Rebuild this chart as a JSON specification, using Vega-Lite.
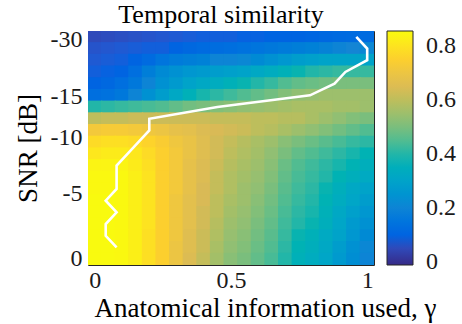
{
  "$schema": "https://vega.github.io/schema/vega-lite/v6.json",
  "width": 286,
  "height": 234,
  "autosize": "none",
  "padding": {"left": 88, "top": 31, "right": 88, "bottom": 59},
  "config": {
    "font": "Liberation Serif",
    "view": {"stroke": "#262626", "strokeWidth": 1},
    "axis": {"grid": false, "domain": false, "labelFont": "Liberation Serif", "titleFont": "Liberation Serif", "labelFontSize": 24, "titleFontSize": 27, "titleFontWeight": "normal", "labelColor": "#1a1a1a", "titleColor": "#000000", "tickColor": "#262626", "tickSize": -4, "labelFlush": false, "labelOverlap": false},
    "legend": {"labelFont": "Liberation Serif", "labelFontSize": 24},
    "style": {"guide-label": {"font": "Liberation Serif", "fontSize": 24}, "guide-title": {"font": "Liberation Serif"}},
    "title": {"font": "Liberation Serif"}
  },
  "title": {"text": "Temporal similarity", "font": "Liberation Serif", "fontSize": 26, "fontWeight": "normal", "color": "#000000", "anchor": "middle", "offset": -1, "dx": -10},
  "datasets": {
    "grid": [
      {"g":0,"snr":-30.65,"v":0.05},{"g":0.05,"snr":-30.65,"v":0.055},{"g":0.1,"snr":-30.65,"v":0.06},{"g":0.15,"snr":-30.65,"v":0.065},{"g":0.2,"snr":-30.65,"v":0.07},{"g":0.25,"snr":-30.65,"v":0.075},{"g":0.3,"snr":-30.65,"v":0.08},{"g":0.35,"snr":-30.65,"v":0.085},{"g":0.4,"snr":-30.65,"v":0.09},{"g":0.45,"snr":-30.65,"v":0.09},{"g":0.5,"snr":-30.65,"v":0.09},{"g":0.55,"snr":-30.65,"v":0.095},{"g":0.6,"snr":-30.65,"v":0.095},{"g":0.65,"snr":-30.65,"v":0.1},{"g":0.7,"snr":-30.65,"v":0.1},{"g":0.75,"snr":-30.65,"v":0.1},{"g":0.8,"snr":-30.65,"v":0.105},{"g":0.85,"snr":-30.65,"v":0.11},{"g":0.9,"snr":-30.65,"v":0.115},{"g":0.95,"snr":-30.65,"v":0.12},{"g":1,"snr":-30.65,"v":0.12},
      {"g":0,"snr":-27.55,"v":0.07},{"g":0.05,"snr":-27.55,"v":0.075},{"g":0.1,"snr":-27.55,"v":0.08},{"g":0.15,"snr":-27.55,"v":0.085},{"g":0.2,"snr":-27.55,"v":0.09},{"g":0.25,"snr":-27.55,"v":0.09},{"g":0.3,"snr":-27.55,"v":0.1},{"g":0.35,"snr":-27.55,"v":0.11},{"g":0.4,"snr":-27.55,"v":0.12},{"g":0.45,"snr":-27.55,"v":0.125},{"g":0.5,"snr":-27.55,"v":0.13},{"g":0.55,"snr":-27.55,"v":0.14},{"g":0.6,"snr":-27.55,"v":0.15},{"g":0.65,"snr":-27.55,"v":0.16},{"g":0.7,"snr":-27.55,"v":0.17},{"g":0.75,"snr":-27.55,"v":0.18},{"g":0.8,"snr":-27.55,"v":0.19},{"g":0.85,"snr":-27.55,"v":0.195},{"g":0.9,"snr":-27.55,"v":0.2},{"g":0.95,"snr":-27.55,"v":0.205},{"g":1,"snr":-27.55,"v":0.21},
      {"g":0,"snr":-24.46,"v":0.08},{"g":0.05,"snr":-24.46,"v":0.085},{"g":0.1,"snr":-24.46,"v":0.09},{"g":0.15,"snr":-24.46,"v":0.1},{"g":0.2,"snr":-24.46,"v":0.12},{"g":0.25,"snr":-24.46,"v":0.15},{"g":0.3,"snr":-24.46,"v":0.17},{"g":0.35,"snr":-24.46,"v":0.18},{"g":0.4,"snr":-24.46,"v":0.19},{"g":0.45,"snr":-24.46,"v":0.2},{"g":0.5,"snr":-24.46,"v":0.2},{"g":0.55,"snr":-24.46,"v":0.21},{"g":0.6,"snr":-24.46,"v":0.22},{"g":0.65,"snr":-24.46,"v":0.24},{"g":0.7,"snr":-24.46,"v":0.26},{"g":0.75,"snr":-24.46,"v":0.28},{"g":0.8,"snr":-24.46,"v":0.29},{"g":0.85,"snr":-24.46,"v":0.3},{"g":0.9,"snr":-24.46,"v":0.3},{"g":0.95,"snr":-24.46,"v":0.3},{"g":1,"snr":-24.46,"v":0.3},
      {"g":0,"snr":-21.36,"v":0.09},{"g":0.05,"snr":-21.36,"v":0.095},{"g":0.1,"snr":-21.36,"v":0.1},{"g":0.15,"snr":-21.36,"v":0.13},{"g":0.2,"snr":-21.36,"v":0.18},{"g":0.25,"snr":-21.36,"v":0.22},{"g":0.3,"snr":-21.36,"v":0.24},{"g":0.35,"snr":-21.36,"v":0.26},{"g":0.4,"snr":-21.36,"v":0.27},{"g":0.45,"snr":-21.36,"v":0.28},{"g":0.5,"snr":-21.36,"v":0.29},{"g":0.55,"snr":-21.36,"v":0.3},{"g":0.6,"snr":-21.36,"v":0.32},{"g":0.65,"snr":-21.36,"v":0.34},{"g":0.7,"snr":-21.36,"v":0.36},{"g":0.75,"snr":-21.36,"v":0.38},{"g":0.8,"snr":-21.36,"v":0.4},{"g":0.85,"snr":-21.36,"v":0.41},{"g":0.9,"snr":-21.36,"v":0.42},{"g":0.95,"snr":-21.36,"v":0.42},{"g":1,"snr":-21.36,"v":0.42},
      {"g":0,"snr":-18.27,"v":0.1},{"g":0.05,"snr":-18.27,"v":0.11},{"g":0.1,"snr":-18.27,"v":0.13},{"g":0.15,"snr":-18.27,"v":0.16},{"g":0.2,"snr":-18.27,"v":0.2},{"g":0.25,"snr":-18.27,"v":0.24},{"g":0.3,"snr":-18.27,"v":0.27},{"g":0.35,"snr":-18.27,"v":0.3},{"g":0.4,"snr":-18.27,"v":0.32},{"g":0.45,"snr":-18.27,"v":0.34},{"g":0.5,"snr":-18.27,"v":0.36},{"g":0.55,"snr":-18.27,"v":0.38},{"g":0.6,"snr":-18.27,"v":0.4},{"g":0.65,"snr":-18.27,"v":0.42},{"g":0.7,"snr":-18.27,"v":0.45},{"g":0.75,"snr":-18.27,"v":0.47},{"g":0.8,"snr":-18.27,"v":0.48},{"g":0.85,"snr":-18.27,"v":0.49},{"g":0.9,"snr":-18.27,"v":0.5},{"g":0.95,"snr":-18.27,"v":0.5},{"g":1,"snr":-18.27,"v":0.5},
      {"g":0,"snr":-15.17,"v":0.13},{"g":0.05,"snr":-15.17,"v":0.14},{"g":0.1,"snr":-15.17,"v":0.16},{"g":0.15,"snr":-15.17,"v":0.2},{"g":0.2,"snr":-15.17,"v":0.24},{"g":0.25,"snr":-15.17,"v":0.28},{"g":0.3,"snr":-15.17,"v":0.32},{"g":0.35,"snr":-15.17,"v":0.36},{"g":0.4,"snr":-15.17,"v":0.39},{"g":0.45,"snr":-15.17,"v":0.41},{"g":0.5,"snr":-15.17,"v":0.43},{"g":0.55,"snr":-15.17,"v":0.45},{"g":0.6,"snr":-15.17,"v":0.47},{"g":0.65,"snr":-15.17,"v":0.49},{"g":0.7,"snr":-15.17,"v":0.51},{"g":0.75,"snr":-15.17,"v":0.53},{"g":0.8,"snr":-15.17,"v":0.54},{"g":0.85,"snr":-15.17,"v":0.55},{"g":0.9,"snr":-15.17,"v":0.55},{"g":0.95,"snr":-15.17,"v":0.55},{"g":1,"snr":-15.17,"v":0.55},
      {"g":0,"snr":-13.68,"v":0.4},{"g":0.05,"snr":-13.68,"v":0.41},{"g":0.1,"snr":-13.68,"v":0.42},{"g":0.15,"snr":-13.68,"v":0.43},{"g":0.2,"snr":-13.68,"v":0.44},{"g":0.25,"snr":-13.68,"v":0.45},{"g":0.3,"snr":-13.68,"v":0.47},{"g":0.35,"snr":-13.68,"v":0.49},{"g":0.4,"snr":-13.68,"v":0.5},{"g":0.45,"snr":-13.68,"v":0.51},{"g":0.5,"snr":-13.68,"v":0.52},{"g":0.55,"snr":-13.68,"v":0.53},{"g":0.6,"snr":-13.68,"v":0.54},{"g":0.65,"snr":-13.68,"v":0.55},{"g":0.7,"snr":-13.68,"v":0.56},{"g":0.75,"snr":-13.68,"v":0.57},{"g":0.8,"snr":-13.68,"v":0.57},{"g":0.85,"snr":-13.68,"v":0.57},{"g":0.9,"snr":-13.68,"v":0.56},{"g":0.95,"snr":-13.68,"v":0.56},{"g":1,"snr":-13.68,"v":0.55},
      {"g":0,"snr":-12.27,"v":0.6},{"g":0.05,"snr":-12.27,"v":0.61},{"g":0.1,"snr":-12.27,"v":0.61},{"g":0.15,"snr":-12.27,"v":0.62},{"g":0.2,"snr":-12.27,"v":0.62},{"g":0.25,"snr":-12.27,"v":0.62},{"g":0.3,"snr":-12.27,"v":0.62},{"g":0.35,"snr":-12.27,"v":0.62},{"g":0.4,"snr":-12.27,"v":0.62},{"g":0.45,"snr":-12.27,"v":0.61},{"g":0.5,"snr":-12.27,"v":0.61},{"g":0.55,"snr":-12.27,"v":0.61},{"g":0.6,"snr":-12.27,"v":0.6},{"g":0.65,"snr":-12.27,"v":0.6},{"g":0.7,"snr":-12.27,"v":0.59},{"g":0.75,"snr":-12.27,"v":0.59},{"g":0.8,"snr":-12.27,"v":0.57},{"g":0.85,"snr":-12.27,"v":0.55},{"g":0.9,"snr":-12.27,"v":0.53},{"g":0.95,"snr":-12.27,"v":0.51},{"g":1,"snr":-12.27,"v":0.5},
      {"g":0,"snr":-10.87,"v":0.72},{"g":0.05,"snr":-10.87,"v":0.73},{"g":0.1,"snr":-10.87,"v":0.73},{"g":0.15,"snr":-10.87,"v":0.72},{"g":0.2,"snr":-10.87,"v":0.71},{"g":0.25,"snr":-10.87,"v":0.7},{"g":0.3,"snr":-10.87,"v":0.68},{"g":0.35,"snr":-10.87,"v":0.67},{"g":0.4,"snr":-10.87,"v":0.65},{"g":0.45,"snr":-10.87,"v":0.64},{"g":0.5,"snr":-10.87,"v":0.63},{"g":0.55,"snr":-10.87,"v":0.62},{"g":0.6,"snr":-10.87,"v":0.6},{"g":0.65,"snr":-10.87,"v":0.59},{"g":0.7,"snr":-10.87,"v":0.57},{"g":0.75,"snr":-10.87,"v":0.55},{"g":0.8,"snr":-10.87,"v":0.53},{"g":0.85,"snr":-10.87,"v":0.51},{"g":0.9,"snr":-10.87,"v":0.49},{"g":0.95,"snr":-10.87,"v":0.47},{"g":1,"snr":-10.87,"v":0.45},
      {"g":0,"snr":-9.6,"v":0.78},{"g":0.05,"snr":-9.6,"v":0.79},{"g":0.1,"snr":-9.6,"v":0.79},{"g":0.15,"snr":-9.6,"v":0.78},{"g":0.2,"snr":-9.6,"v":0.76},{"g":0.25,"snr":-9.6,"v":0.74},{"g":0.3,"snr":-9.6,"v":0.71},{"g":0.35,"snr":-9.6,"v":0.69},{"g":0.4,"snr":-9.6,"v":0.66},{"g":0.45,"snr":-9.6,"v":0.63},{"g":0.5,"snr":-9.6,"v":0.61},{"g":0.55,"snr":-9.6,"v":0.59},{"g":0.6,"snr":-9.6,"v":0.57},{"g":0.65,"snr":-9.6,"v":0.55},{"g":0.7,"snr":-9.6,"v":0.52},{"g":0.75,"snr":-9.6,"v":0.5},{"g":0.8,"snr":-9.6,"v":0.48},{"g":0.85,"snr":-9.6,"v":0.46},{"g":0.9,"snr":-9.6,"v":0.44},{"g":0.95,"snr":-9.6,"v":0.42},{"g":1,"snr":-9.6,"v":0.41},
      {"g":0,"snr":-8.54,"v":0.81},{"g":0.05,"snr":-8.54,"v":0.82},{"g":0.1,"snr":-8.54,"v":0.82},{"g":0.15,"snr":-8.54,"v":0.81},{"g":0.2,"snr":-8.54,"v":0.78},{"g":0.25,"snr":-8.54,"v":0.75},{"g":0.3,"snr":-8.54,"v":0.72},{"g":0.35,"snr":-8.54,"v":0.69},{"g":0.4,"snr":-8.54,"v":0.66},{"g":0.45,"snr":-8.54,"v":0.63},{"g":0.5,"snr":-8.54,"v":0.6},{"g":0.55,"snr":-8.54,"v":0.58},{"g":0.6,"snr":-8.54,"v":0.56},{"g":0.65,"snr":-8.54,"v":0.53},{"g":0.7,"snr":-8.54,"v":0.5},{"g":0.75,"snr":-8.54,"v":0.47},{"g":0.8,"snr":-8.54,"v":0.45},{"g":0.85,"snr":-8.54,"v":0.43},{"g":0.9,"snr":-8.54,"v":0.41},{"g":0.95,"snr":-8.54,"v":0.39},{"g":1,"snr":-8.54,"v":0.37},
      {"g":0,"snr":-7.48,"v":0.84},{"g":0.05,"snr":-7.48,"v":0.84},{"g":0.1,"snr":-7.48,"v":0.84},{"g":0.15,"snr":-7.48,"v":0.82},{"g":0.2,"snr":-7.48,"v":0.79},{"g":0.25,"snr":-7.48,"v":0.75},{"g":0.3,"snr":-7.48,"v":0.72},{"g":0.35,"snr":-7.48,"v":0.68},{"g":0.4,"snr":-7.48,"v":0.65},{"g":0.45,"snr":-7.48,"v":0.62},{"g":0.5,"snr":-7.48,"v":0.59},{"g":0.55,"snr":-7.48,"v":0.57},{"g":0.6,"snr":-7.48,"v":0.55},{"g":0.65,"snr":-7.48,"v":0.52},{"g":0.7,"snr":-7.48,"v":0.48},{"g":0.75,"snr":-7.48,"v":0.45},{"g":0.8,"snr":-7.48,"v":0.43},{"g":0.85,"snr":-7.48,"v":0.41},{"g":0.9,"snr":-7.48,"v":0.39},{"g":0.95,"snr":-7.48,"v":0.37},{"g":1,"snr":-7.48,"v":0.35},
      {"g":0,"snr":-6.42,"v":0.85},{"g":0.05,"snr":-6.42,"v":0.85},{"g":0.1,"snr":-6.42,"v":0.85},{"g":0.15,"snr":-6.42,"v":0.83},{"g":0.2,"snr":-6.42,"v":0.8},{"g":0.25,"snr":-6.42,"v":0.75},{"g":0.3,"snr":-6.42,"v":0.72},{"g":0.35,"snr":-6.42,"v":0.68},{"g":0.4,"snr":-6.42,"v":0.65},{"g":0.45,"snr":-6.42,"v":0.61},{"g":0.5,"snr":-6.42,"v":0.58},{"g":0.55,"snr":-6.42,"v":0.56},{"g":0.6,"snr":-6.42,"v":0.54},{"g":0.65,"snr":-6.42,"v":0.51},{"g":0.7,"snr":-6.42,"v":0.47},{"g":0.75,"snr":-6.42,"v":0.44},{"g":0.8,"snr":-6.42,"v":0.42},{"g":0.85,"snr":-6.42,"v":0.4},{"g":0.9,"snr":-6.42,"v":0.37},{"g":0.95,"snr":-6.42,"v":0.35},{"g":1,"snr":-6.42,"v":0.33},
      {"g":0,"snr":-5.37,"v":0.85},{"g":0.05,"snr":-5.37,"v":0.85},{"g":0.1,"snr":-5.37,"v":0.85},{"g":0.15,"snr":-5.37,"v":0.83},{"g":0.2,"snr":-5.37,"v":0.8},{"g":0.25,"snr":-5.37,"v":0.75},{"g":0.3,"snr":-5.37,"v":0.72},{"g":0.35,"snr":-5.37,"v":0.68},{"g":0.4,"snr":-5.37,"v":0.64},{"g":0.45,"snr":-5.37,"v":0.61},{"g":0.5,"snr":-5.37,"v":0.58},{"g":0.55,"snr":-5.37,"v":0.55},{"g":0.6,"snr":-5.37,"v":0.53},{"g":0.65,"snr":-5.37,"v":0.5},{"g":0.7,"snr":-5.37,"v":0.46},{"g":0.75,"snr":-5.37,"v":0.43},{"g":0.8,"snr":-5.37,"v":0.41},{"g":0.85,"snr":-5.37,"v":0.38},{"g":0.9,"snr":-5.37,"v":0.35},{"g":0.95,"snr":-5.37,"v":0.32},{"g":1,"snr":-5.37,"v":0.3},
      {"g":0,"snr":-4.41,"v":0.855},{"g":0.05,"snr":-4.41,"v":0.855},{"g":0.1,"snr":-4.41,"v":0.85},{"g":0.15,"snr":-4.41,"v":0.83},{"g":0.2,"snr":-4.41,"v":0.8},{"g":0.25,"snr":-4.41,"v":0.75},{"g":0.3,"snr":-4.41,"v":0.71},{"g":0.35,"snr":-4.41,"v":0.67},{"g":0.4,"snr":-4.41,"v":0.64},{"g":0.45,"snr":-4.41,"v":0.6},{"g":0.5,"snr":-4.41,"v":0.57},{"g":0.55,"snr":-4.41,"v":0.55},{"g":0.6,"snr":-4.41,"v":0.52},{"g":0.65,"snr":-4.41,"v":0.49},{"g":0.7,"snr":-4.41,"v":0.45},{"g":0.75,"snr":-4.41,"v":0.42},{"g":0.8,"snr":-4.41,"v":0.4},{"g":0.85,"snr":-4.41,"v":0.37},{"g":0.9,"snr":-4.41,"v":0.34},{"g":0.95,"snr":-4.41,"v":0.31},{"g":1,"snr":-4.41,"v":0.28},
      {"g":0,"snr":-3.51,"v":0.855},{"g":0.05,"snr":-3.51,"v":0.855},{"g":0.1,"snr":-3.51,"v":0.85},{"g":0.15,"snr":-3.51,"v":0.83},{"g":0.2,"snr":-3.51,"v":0.8},{"g":0.25,"snr":-3.51,"v":0.75},{"g":0.3,"snr":-3.51,"v":0.71},{"g":0.35,"snr":-3.51,"v":0.67},{"g":0.4,"snr":-3.51,"v":0.63},{"g":0.45,"snr":-3.51,"v":0.6},{"g":0.5,"snr":-3.51,"v":0.56},{"g":0.55,"snr":-3.51,"v":0.54},{"g":0.6,"snr":-3.51,"v":0.51},{"g":0.65,"snr":-3.51,"v":0.48},{"g":0.7,"snr":-3.51,"v":0.44},{"g":0.75,"snr":-3.51,"v":0.41},{"g":0.8,"snr":-3.51,"v":0.39},{"g":0.85,"snr":-3.51,"v":0.36},{"g":0.9,"snr":-3.51,"v":0.32},{"g":0.95,"snr":-3.51,"v":0.29},{"g":1,"snr":-3.51,"v":0.26},
      {"g":0,"snr":-2.61,"v":0.855},{"g":0.05,"snr":-2.61,"v":0.855},{"g":0.1,"snr":-2.61,"v":0.85},{"g":0.15,"snr":-2.61,"v":0.83},{"g":0.2,"snr":-2.61,"v":0.8},{"g":0.25,"snr":-2.61,"v":0.75},{"g":0.3,"snr":-2.61,"v":0.71},{"g":0.35,"snr":-2.61,"v":0.67},{"g":0.4,"snr":-2.61,"v":0.63},{"g":0.45,"snr":-2.61,"v":0.59},{"g":0.5,"snr":-2.61,"v":0.55},{"g":0.55,"snr":-2.61,"v":0.53},{"g":0.6,"snr":-2.61,"v":0.5},{"g":0.65,"snr":-2.61,"v":0.47},{"g":0.7,"snr":-2.61,"v":0.43},{"g":0.75,"snr":-2.61,"v":0.4},{"g":0.8,"snr":-2.61,"v":0.38},{"g":0.85,"snr":-2.61,"v":0.35},{"g":0.9,"snr":-2.61,"v":0.31},{"g":0.95,"snr":-2.61,"v":0.27},{"g":1,"snr":-2.61,"v":0.24},
      {"g":0,"snr":-1.71,"v":0.855},{"g":0.05,"snr":-1.71,"v":0.855},{"g":0.1,"snr":-1.71,"v":0.85},{"g":0.15,"snr":-1.71,"v":0.83},{"g":0.2,"snr":-1.71,"v":0.79},{"g":0.25,"snr":-1.71,"v":0.75},{"g":0.3,"snr":-1.71,"v":0.71},{"g":0.35,"snr":-1.71,"v":0.66},{"g":0.4,"snr":-1.71,"v":0.62},{"g":0.45,"snr":-1.71,"v":0.58},{"g":0.5,"snr":-1.71,"v":0.54},{"g":0.55,"snr":-1.71,"v":0.52},{"g":0.6,"snr":-1.71,"v":0.49},{"g":0.65,"snr":-1.71,"v":0.46},{"g":0.7,"snr":-1.71,"v":0.42},{"g":0.75,"snr":-1.71,"v":0.38},{"g":0.8,"snr":-1.71,"v":0.36},{"g":0.85,"snr":-1.71,"v":0.33},{"g":0.9,"snr":-1.71,"v":0.3},{"g":0.95,"snr":-1.71,"v":0.26},{"g":1,"snr":-1.71,"v":0.22},
      {"g":0,"snr":-0.81,"v":0.855},{"g":0.05,"snr":-0.81,"v":0.855},{"g":0.1,"snr":-0.81,"v":0.85},{"g":0.15,"snr":-0.81,"v":0.83},{"g":0.2,"snr":-0.81,"v":0.79},{"g":0.25,"snr":-0.81,"v":0.75},{"g":0.3,"snr":-0.81,"v":0.7},{"g":0.35,"snr":-0.81,"v":0.66},{"g":0.4,"snr":-0.81,"v":0.62},{"g":0.45,"snr":-0.81,"v":0.57},{"g":0.5,"snr":-0.81,"v":0.53},{"g":0.55,"snr":-0.81,"v":0.51},{"g":0.6,"snr":-0.81,"v":0.48},{"g":0.65,"snr":-0.81,"v":0.45},{"g":0.7,"snr":-0.81,"v":0.41},{"g":0.75,"snr":-0.81,"v":0.37},{"g":0.8,"snr":-0.81,"v":0.35},{"g":0.85,"snr":-0.81,"v":0.32},{"g":0.9,"snr":-0.81,"v":0.28},{"g":0.95,"snr":-0.81,"v":0.24},{"g":1,"snr":-0.81,"v":0.21},
      {"g":0,"snr":0.09,"v":0.855},{"g":0.05,"snr":0.09,"v":0.855},{"g":0.1,"snr":0.09,"v":0.85},{"g":0.15,"snr":0.09,"v":0.83},{"g":0.2,"snr":0.09,"v":0.79},{"g":0.25,"snr":0.09,"v":0.75},{"g":0.3,"snr":0.09,"v":0.7},{"g":0.35,"snr":0.09,"v":0.65},{"g":0.4,"snr":0.09,"v":0.61},{"g":0.45,"snr":0.09,"v":0.56},{"g":0.5,"snr":0.09,"v":0.52},{"g":0.55,"snr":0.09,"v":0.5},{"g":0.6,"snr":0.09,"v":0.47},{"g":0.65,"snr":0.09,"v":0.44},{"g":0.7,"snr":0.09,"v":0.4},{"g":0.75,"snr":0.09,"v":0.36},{"g":0.8,"snr":0.09,"v":0.34},{"g":0.85,"snr":0.09,"v":0.31},{"g":0.9,"snr":0.09,"v":0.27},{"g":0.95,"snr":0.09,"v":0.23},{"g":1,"snr":0.09,"v":0.2}
    ],
    "path": [
      {"snr":-30.65,"g":0.96},{"snr":-27.55,"g":1.0},{"snr":-24.46,"g":1.0},{"snr":-21.36,"g":0.92},{"snr":-18.27,"g":0.88},{"snr":-15.17,"g":0.79},{"snr":-13.68,"g":0.45},{"snr":-12.27,"g":0.2},{"snr":-10.87,"g":0.2},{"snr":-9.6,"g":0.16},{"snr":-8.54,"g":0.12},{"snr":-7.48,"g":0.08},{"snr":-6.42,"g":0.08},{"snr":-5.37,"g":0.08},{"snr":-4.41,"g":0.04},{"snr":-3.51,"g":0.08},{"snr":-2.61,"g":0.04},{"snr":-1.71,"g":0.04},{"snr":-0.81,"g":0.08}
    ]
  },
  "layer": [
    {
      "data": {"name": "grid"},
      "mark": {"type": "rect", "width": {"band": 1.1}, "height": {"band": 1.1}, "clip": true},
      "encoding": {
        "x": {"field": "g", "type": "ordinal", "axis": null, "scale": {"paddingInner": 0, "paddingOuter": 0}},
        "y": {"field": "snr", "type": "ordinal", "axis": null, "sort": "ascending", "scale": {"paddingInner": 0, "paddingOuter": 0}},
        "color": {"field": "v", "type": "quantitative",
          "scale": {"type": "linear", "domain": [-0.012, 0.857], "range": ["#352a87", "#0363e1", "#1485d4", "#06a7c6", "#38b99e", "#92bf73", "#d9ba56", "#fcce2e", "#f9fb0e"]},
          "legend": {"type": "gradient", "direction": "vertical", "orient": "right", "offset": 12, "title": null, "gradientLength": 234, "gradientThickness": 26, "values": [0, 0.2, 0.4, 0.6, 0.8], "format": ".1~f", "labelFont": "Liberation Serif", "labelFontSize": 24, "labelOffset": 13, "labelColor": "#1a1a1a", "gradientStrokeColor": "#262626", "gradientStrokeWidth": 1, "labelOverlap": false}}
      }
    },
    {
      "layer": [
        {
          "data": {"name": "path"},
          "mark": {"type": "line", "color": "#ffffff", "strokeWidth": 2.6},
          "encoding": {
            "x": {"field": "g", "type": "quantitative", "scale": {"domain": [-0.025, 1.025], "nice": false, "zero": false},
              "axis": {"orient": "bottom", "values": [0, 0.5, 1], "labelExpr": "'' + datum.value", "labelFont": "Liberation Serif", "labelFontSize": 24, "labelPadding": 7, "title": "Anatomical information used, γ", "titleBaseline": "alphabetic", "titleX": 177, "titleY": 51}},
            "y": {"field": "snr", "type": "quantitative", "scale": {"domain": [-32.2, -30, -15, -10, -5, 0, 0.54], "range": [0, 8.3, 65, 106.7, 162, 227, 234], "nice": false, "zero": false},
              "axis": {"orient": "left", "values": [-30, -15, -10, -5, 0], "labelExpr": "'' + datum.value", "labelFont": "Liberation Serif", "labelFontSize": 24, "labelPadding": 10, "title": "SNR [dB]", "titlePadding": 8}},
            "order": {"field": "snr", "type": "quantitative"}
          }
        },
        {
          "data": {"name": "path"},
          "mark": {"type": "line", "opacity": 0},
          "encoding": {
            "x": {"field": "g", "type": "quantitative", "scale": {"domain": [-0.025, 1.025], "nice": false, "zero": false},
              "axis": {"orient": "top", "values": [0, 0.5, 1], "labels": false, "title": null}},
            "y": {"field": "snr", "type": "quantitative", "scale": {"domain": [-32.2, -30, -15, -10, -5, 0, 0.54], "range": [0, 8.3, 65, 106.7, 162, 227, 234], "nice": false, "zero": false},
              "axis": {"orient": "right", "values": [-30, -15, -10, -5, 0], "labels": false, "title": null}},
            "order": {"field": "snr", "type": "quantitative"}
          }
        }
      ],
      "resolve": {"axis": {"x": "independent", "y": "independent"}}
    }
  ],
  "resolve": {"scale": {"x": "independent", "y": "independent"}}
}
